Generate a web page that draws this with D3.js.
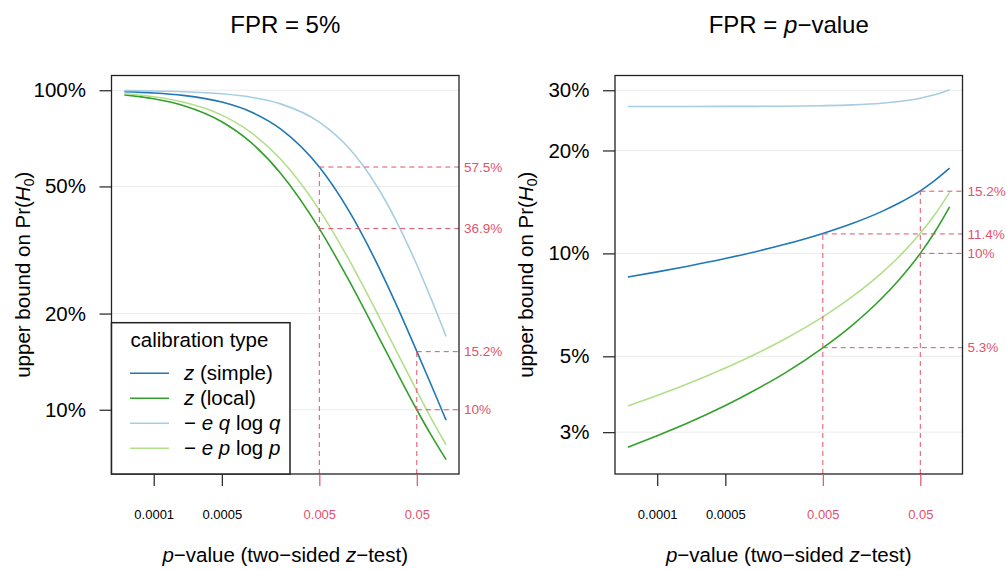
<!DOCTYPE html>
<html>
<head>
<meta charset="utf-8">
<script src="https://cdn.jsdelivr.net/npm/d3@7"></script>
<style>
  body { margin: 0; background: #fff; }
  text { font-family: "Liberation Sans", Arial, Helvetica, sans-serif; }
</style>
</head>
<body>
<svg width="1006" height="570"></svg>
<script>
// p-values at which the curves were read
var pValues = [5e-5, 1e-4, 2e-4, 5e-4, 1e-3, 2e-3, 5e-3, 1e-2, 2e-2, 3e-2, 5e-2, 7e-2, 0.1];

// panel 1: FPR = 5%
var leftSimple = [0.9899, 0.9808, 0.9637, 0.9184, 0.8552, 0.7571, 0.5749, 0.4206, 0.2826, 0.2171, 0.1523, 0.1200, 0.0927];
var leftLocal  = [0.9671, 0.9408, 0.8964, 0.7968, 0.6853, 0.5503, 0.3689, 0.2548, 0.1704, 0.1342, 0.1000, 0.0834, 0.0698];
var leftQlogQ  = [0.9974, 0.9949, 0.9898, 0.9748, 0.9509, 0.9065, 0.7952, 0.6606, 0.4944, 0.3959, 0.2844, 0.2229, 0.1696];
var leftPlogP  = [0.9751, 0.9546, 0.9191, 0.8359, 0.7371, 0.6090, 0.4223, 0.2960, 0.1984, 0.1554, 0.1145, 0.0942, 0.0776];

// panel 2: FPR = p-value
var rightSimple = [0.0853, 0.0883, 0.0916, 0.0966, 0.1010, 0.1061, 0.1144, 0.1223, 0.1325, 0.1401, 0.1523, 0.1632, 0.1775];
var rightLocal  = [0.0271, 0.0293, 0.0318, 0.0359, 0.0398, 0.0445, 0.0529, 0.0616, 0.0738, 0.0835, 0.1000, 0.1151, 0.1368];
var rightQlogQ  = [0.2690, 0.2690, 0.2690, 0.2691, 0.2692, 0.2695, 0.2704, 0.2719, 0.2749, 0.2780, 0.2844, 0.2909, 0.3012];
var rightPlogP  = [0.0358, 0.0384, 0.0414, 0.0462, 0.0506, 0.0560, 0.0652, 0.0747, 0.0876, 0.0976, 0.1145, 0.1295, 0.1508];

// highlighted values (dashed red guides)
var leftMarkP = [0.005, 0.005, 0.05, 0.05];
var leftMarkV = [0.575, 0.369, 0.152, 0.10];
var leftMarkLabels = ["57.5%", "36.9%", "15.2%", "10%"];
var rightMarkP = [0.005, 0.005, 0.05, 0.05];
var rightMarkV = [0.114, 0.053, 0.152, 0.10];
var rightMarkLabels = ["11.4%", "5.3%", "15.2%", "10%"];

// axes
var xTicks = [0.0001, 0.0005, 0.005, 0.05];
var xTickLabels = ["0.0001", "0.0005", "0.005", "0.05"];
var leftYTicks = [0.1, 0.2, 0.5, 1];
var rightYTicks = [0.03, 0.05, 0.1, 0.2, 0.3];
var leftYLim = [0.07, 1];
var rightYLim = [0.025, 0.3];

var seriesNames = ["simple", "local", "qlogq", "plogp"];
var colors = ["#1F78B4", "#33A02C", "#A6CEE3", "#B2DF8A"];
var red = "#DF536B";

var svg = d3.select("svg");
var plotTop = 75.5, plotBottom = 474;

// R style: extend log range by 4% on each side
function padLog(lo, hi) {
  var a = Math.log10(lo), b = Math.log10(hi), d = (b - a) * 0.04;
  return [Math.pow(10, a - d), Math.pow(10, b + d)];
}

function panel(opt) {
  var x = d3.scaleLog().domain(padLog(d3.min(pValues), d3.max(pValues))).range([opt.x0, opt.x1]);
  var y = d3.scaleLog().domain(padLog(opt.ylim[0], opt.ylim[1])).range([plotBottom, plotTop]);
  var g = svg.append("g");

  g.append("clipPath").attr("id", "clip" + opt.id)
    .append("rect").attr("x", opt.x0).attr("y", plotTop)
    .attr("width", opt.x1 - opt.x0).attr("height", plotBottom - plotTop);

  // grid
  g.selectAll(".grid").data(opt.yTicks).enter().append("line")
    .attr("x1", opt.x0).attr("x2", opt.x1)
    .attr("y1", d => y(d)).attr("y2", d => y(d))
    .attr("stroke", "#ebebeb").attr("stroke-width", 1);

  // curves
  var line = d3.line().x(d => x(d[0])).y(d => y(d[1])).curve(d3.curveMonotoneX);
  g.append("g").attr("clip-path", "url(#clip" + opt.id + ")")
    .selectAll("path").data(opt.series).enter().append("path")
    .attr("d", s => line(pValues.map((p, i) => [p, s[i]])))
    .attr("fill", "none")
    .attr("stroke", (s, i) => colors[i])
    .attr("stroke-width", 1.6);

  // dashed guides: vertical up to highest mark, horizontals to the right edge
  var guide = g.append("g").attr("stroke", red).attr("stroke-width", 1)
    .attr("stroke-dasharray", "5,4").attr("fill", "none");
  d3.groups(opt.markP.map((p, i) => [p, opt.markV[i]]), d => d[0]).forEach(function (grp) {
    guide.append("line")
      .attr("x1", x(grp[0])).attr("x2", x(grp[0]))
      .attr("y1", plotBottom).attr("y2", y(d3.max(grp[1], d => d[1])));
  });
  opt.markV.forEach(function (v, i) {
    guide.append("line")
      .attr("x1", x(opt.markP[i])).attr("x2", opt.x1)
      .attr("y1", y(v)).attr("y2", y(v));
    g.append("text")
      .attr("x", opt.x1 + 5).attr("y", y(v))
      .attr("dy", "0.35em")
      .attr("font-size", 13.5).attr("fill", red)
      .text(opt.markLabels[i]);
  });

  // box
  g.append("rect").attr("x", opt.x0).attr("y", plotTop)
    .attr("width", opt.x1 - opt.x0).attr("height", plotBottom - plotTop)
    .attr("fill", "none").attr("stroke", "#222").attr("stroke-width", 1.3);

  // y axis
  var ya = g.append("g").attr("transform", "translate(" + opt.x0 + ",0)")
    .call(d3.axisLeft(y).tickValues(opt.yTicks)
      .tickFormat(d => Math.round(d * 100) + "%").tickSize(12).tickPadding(13.5));
  ya.select(".domain").remove();
  ya.selectAll("line").attr("stroke", "#222").attr("stroke-width", 1.2);
  ya.selectAll("text").attr("font-size", 20.5).attr("fill", "#000")
    .style("font-family", "'Liberation Sans', Arial, sans-serif");

  // x axis
  var xa = g.append("g").attr("transform", "translate(0," + plotBottom + ")")
    .call(d3.axisBottom(x).tickValues(xTicks)
      .tickFormat((d, i) => xTickLabels[i]).tickSize(12).tickPadding(23.8));
  xa.select(".domain").remove();
  xa.selectAll(".tick line").attr("stroke", (d, i) => i >= 2 ? red : "#222").attr("stroke-width", 1.2);
  xa.selectAll(".tick text").attr("font-size", 13).attr("fill", (d, i) => i >= 2 ? red : "#000")
    .style("font-family", "'Liberation Sans', Arial, sans-serif");

  var cx = (opt.x0 + opt.x1) / 2;

  // title
  var t = g.append("text").attr("x", cx).attr("y", 33).attr("text-anchor", "middle").attr("font-size", 24);
  opt.title(t);

  // x label
  var xl = g.append("text").attr("x", cx).attr("y", 562).attr("text-anchor", "middle").attr("font-size", 20.5);
  xl.append("tspan").attr("font-style", "italic").text("p");
  xl.append("tspan").text("\u2212value (two\u2212sided ");
  xl.append("tspan").attr("font-style", "italic").text("z");
  xl.append("tspan").text("\u2212test)");

  // y label
  var yl = g.append("text")
    .attr("transform", "translate(" + (opt.x0 - 82) + "," + ((plotTop + plotBottom) / 2) + ") rotate(-90)")
    .attr("text-anchor", "middle").attr("font-size", 20.5);
  yl.append("tspan").text("upper bound on Pr(");
  yl.append("tspan").attr("font-style", "italic").text("H");
  yl.append("tspan").attr("font-size", 14).attr("dy", 4).text("0");
  yl.append("tspan").attr("dy", -4).text(")");

  return { x: x, y: y, g: g };
}

var left = panel({
  id: "L", x0: 111.5, x1: 459, ylim: leftYLim, yTicks: leftYTicks,
  series: [leftSimple, leftLocal, leftQlogQ, leftPlogP],
  markP: leftMarkP, markV: leftMarkV, markLabels: leftMarkLabels,
  title: function (t) { t.text("FPR = 5%"); }
});

var right = panel({
  id: "R", x0: 615, x1: 962.5, ylim: rightYLim, yTicks: rightYTicks,
  series: [rightSimple, rightLocal, rightQlogQ, rightPlogP],
  markP: rightMarkP, markV: rightMarkV, markLabels: rightMarkLabels,
  title: function (t) {
    t.append("tspan").text("FPR = ");
    t.append("tspan").attr("font-style", "italic").text("p");
    t.append("tspan").text("\u2212value");
  }
});

// legend (bottom left of first panel)
var lg = left.g.append("g");
lg.append("rect").attr("x", 111.5).attr("y", 322.7).attr("width", 178.5).attr("height", plotBottom - 322.7)
  .attr("fill", "#fff").attr("stroke", "#222").attr("stroke-width", 1.5);
lg.append("text").attr("x", 130.5).attr("y", 347).attr("font-size", 20.5).text("calibration type");

var legendParts = [
  [["z", true], [" (simple)", false]],
  [["z", true], [" (local)", false]],
  [["\u2212 ", false], ["e", true], [" ", false], ["q", true], [" log ", false], ["q", true]],
  [["\u2212 ", false], ["e", true], [" ", false], ["p", true], [" log ", false], ["p", true]]
];
seriesNames.forEach(function (name, i) {
  var yy = 373.3 + i * 25;
  lg.append("line").attr("x1", 130).attr("x2", 169).attr("y1", yy).attr("y2", yy)
    .attr("stroke", colors[i]).attr("stroke-width", 1.6);
  var tx = lg.append("text").attr("x", 184).attr("y", yy + 7).attr("font-size", 20.5);
  legendParts[i].forEach(function (part) {
    tx.append("tspan").attr("font-style", part[1] ? "italic" : "normal").text(part[0]);
  });
});
</script>
</body>
</html>
